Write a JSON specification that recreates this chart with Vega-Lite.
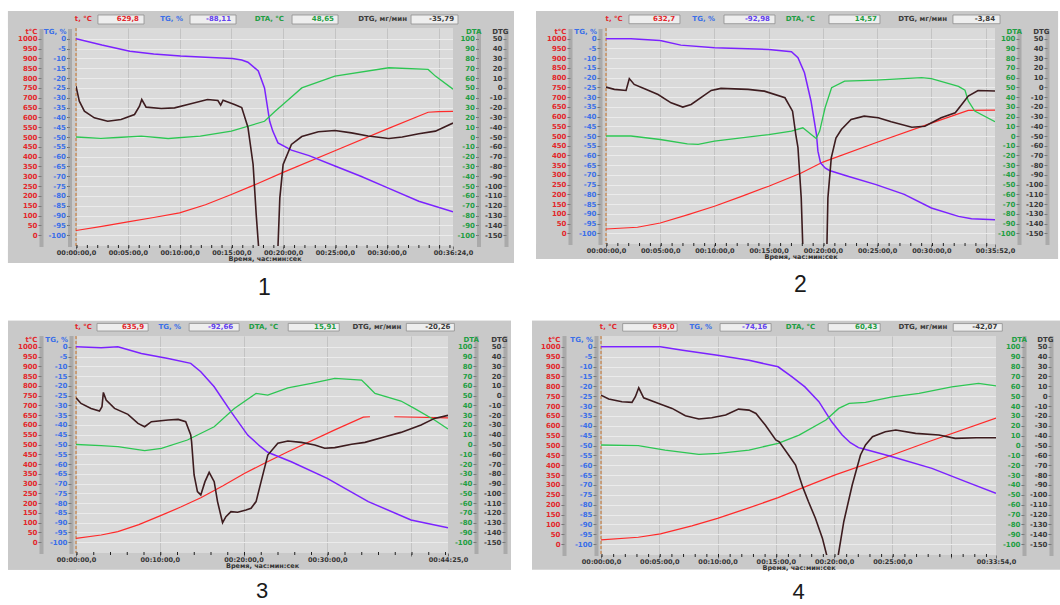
{
"$schema": "https://vega.github.io/schema/vega-lite/v6.json",
"background": "white",
"padding": {"left": 7, "top": 10, "right": 0, "bottom": 0},
"datasets": {
"readout": [
{"p":1,"k":"t","v":"629,8"},{"p":1,"k":"tg","v":"-88,11"},{"p":1,"k":"dta","v":"48,65"},{"p":1,"k":"dtg","v":"-35,79"},
{"p":2,"k":"t","v":"632,7"},{"p":2,"k":"tg","v":"-92,98"},{"p":2,"k":"dta","v":"14,57"},{"p":2,"k":"dtg","v":"-3,84"},
{"p":3,"k":"t","v":"635,9"},{"p":3,"k":"tg","v":"-92,66"},{"p":3,"k":"dta","v":"15,91"},{"p":3,"k":"dtg","v":"-20,26"},
{"p":4,"k":"t","v":"639,0"},{"p":4,"k":"tg","v":"-74,16"},{"p":4,"k":"dta","v":"60,43"},{"p":4,"k":"dtg","v":"-42,07"}
],
"p1": [
{"s":"t","m":0,"v":24},{"s":"t","m":2.5,"v":45},{"s":"t","m":5,"v":68},{"s":"t","m":7.5,"v":90},{"s":"t","m":10,"v":114},{"s":"t","m":12.5,"v":155},{"s":"t","m":15,"v":207},{"s":"t","m":17.5,"v":262},{"s":"t","m":20,"v":320},{"s":"t","m":25,"v":430},{"s":"t","m":30,"v":540},{"s":"t","m":34,"v":626},{"s":"t","m":35,"v":629},{"s":"t","m":36.4,"v":630},
{"s":"tg","m":0,"v":0},{"s":"tg","m":2.5,"v":-3.2},{"s":"tg","m":5.2,"v":-6.3},{"s":"tg","m":7.5,"v":-7.7},{"s":"tg","m":10.1,"v":-8.8},{"s":"tg","m":12.5,"v":-9.4},{"s":"tg","m":15.1,"v":-10},{"s":"tg","m":16,"v":-10.8},{"s":"tg","m":16.6,"v":-11.9},{"s":"tg","m":17.6,"v":-16.4},{"s":"tg","m":18.2,"v":-25},{"s":"tg","m":18.7,"v":-42},{"s":"tg","m":19,"v":-47},{"s":"tg","m":19.5,"v":-53},{"s":"tg","m":20.8,"v":-56.7},{"s":"tg","m":22.5,"v":-59.5},{"s":"tg","m":25,"v":-64.8},{"s":"tg","m":27.5,"v":-70},{"s":"tg","m":30.1,"v":-75.9},{"s":"tg","m":33.1,"v":-82.7},{"s":"tg","m":36.4,"v":-88.1},
{"s":"dta","m":0,"v":0},{"s":"dta","m":2.4,"v":-1.5},{"s":"dta","m":4,"v":-0.5},{"s":"dta","m":6.3,"v":0.9},{"s":"dta","m":8.9,"v":-1.5},{"s":"dta","m":12,"v":0.8},{"s":"dta","m":15,"v":6},{"s":"dta","m":18.2,"v":16},{"s":"dta","m":19.2,"v":26},{"s":"dta","m":20.5,"v":38},{"s":"dta","m":21.8,"v":50},{"s":"dta","m":25,"v":62},{"s":"dta","m":30.2,"v":70.5},{"s":"dta","m":34,"v":68.8},{"s":"dta","m":34.7,"v":62},{"s":"dta","m":36.4,"v":48.7},
{"s":"dtg","m":0,"v":1.8},{"s":"dtg","m":0.32,"v":-13.5},{"s":"dtg","m":0.81,"v":-23.7},{"s":"dtg","m":1.77,"v":-30.5},{"s":"dtg","m":3.06,"v":-33.9},{"s":"dtg","m":4.35,"v":-32.2},{"s":"dtg","m":5.65,"v":-27.1},{"s":"dtg","m":6.13,"v":-18.6},{"s":"dtg","m":6.35,"v":-11.8},{"s":"dtg","m":6.77,"v":-19.6},{"s":"dtg","m":8.23,"v":-21},{"s":"dtg","m":9.52,"v":-20.3},{"s":"dtg","m":10.8,"v":-16.9},{"s":"dtg","m":12.7,"v":-11.8},{"s":"dtg","m":13.7,"v":-12.8},{"s":"dtg","m":13.97,"v":-17.5},{"s":"dtg","m":14.2,"v":-12.5},{"s":"dtg","m":15.3,"v":-16.9},{"s":"dtg","m":16,"v":-20},{"s":"dtg","m":16.6,"v":-40},{"s":"dtg","m":17.1,"v":-78},{"s":"dtg","m":17.4,"v":-129},{"s":"dtg","m":17.65,"v":-165},{"s":"dtg","m":17.75,"v":-200},{"s":"dtg","m":19.45,"v":-200},{"s":"dtg","m":19.5,"v":-162},{"s":"dtg","m":19.68,"v":-112},{"s":"dtg","m":20,"v":-78},{"s":"dtg","m":20.8,"v":-57.6},{"s":"dtg","m":21.8,"v":-49.5},{"s":"dtg","m":23.4,"v":-44.7},{"s":"dtg","m":25,"v":-43.4},{"s":"dtg","m":26.6,"v":-45.8},{"s":"dtg","m":28.2,"v":-49},{"s":"dtg","m":30.2,"v":-51.5},{"s":"dtg","m":31.5,"v":-50},{"s":"dtg","m":33.1,"v":-46.7},{"s":"dtg","m":34.7,"v":-44},{"s":"dtg","m":36.4,"v":-35.8}
],
"p2": [
{"s":"t","m":0,"v":22},{"s":"t","m":2.9,"v":31},{"s":"t","m":5,"v":53},{"s":"t","m":7.5,"v":95},{"s":"t","m":10,"v":139},{"s":"t","m":12.5,"v":190},{"s":"t","m":15,"v":242},{"s":"t","m":18,"v":310},{"s":"t","m":20,"v":366},{"s":"t","m":25,"v":468},{"s":"t","m":30,"v":566},{"s":"t","m":33.4,"v":632},{"s":"t","m":35.8667,"v":633},
{"s":"tg","m":0,"v":0},{"s":"tg","m":2.3,"v":0},{"s":"tg","m":5,"v":-0.9},{"s":"tg","m":6.9,"v":-3.3},{"s":"tg","m":10,"v":-4.6},{"s":"tg","m":15,"v":-5.5},{"s":"tg","m":17.1,"v":-6.7},{"s":"tg","m":17.7,"v":-9.8},{"s":"tg","m":18.3,"v":-17.5},{"s":"tg","m":18.9,"v":-32},{"s":"tg","m":19.4,"v":-49},{"s":"tg","m":19.54,"v":-57.8},{"s":"tg","m":19.78,"v":-63.8},{"s":"tg","m":20.2,"v":-66.4},{"s":"tg","m":20.6,"v":-67.7},{"s":"tg","m":22.3,"v":-70.7},{"s":"tg","m":24.9,"v":-75},{"s":"tg","m":27.5,"v":-80},{"s":"tg","m":30,"v":-87},{"s":"tg","m":32.5,"v":-91.3},{"s":"tg","m":33.7,"v":-92.5},{"s":"tg","m":35.8667,"v":-93},
{"s":"dta","m":0,"v":0},{"s":"dta","m":2.3,"v":0},{"s":"dta","m":5,"v":-3.6},{"s":"dta","m":7.5,"v":-8.1},{"s":"dta","m":8.5,"v":-8.7},{"s":"dta","m":10,"v":-5.3},{"s":"dta","m":15,"v":1.5},{"s":"dta","m":17.1,"v":5},{"s":"dta","m":18.15,"v":8.4},{"s":"dta","m":18.92,"v":1.5},{"s":"dta","m":19.38,"v":-2.6},{"s":"dta","m":19.7,"v":5},{"s":"dta","m":20.2,"v":29},{"s":"dta","m":20.8,"v":49.6},{"s":"dta","m":22,"v":56.4},{"s":"dta","m":24.9,"v":57.5},{"s":"dta","m":29.1,"v":60},{"s":"dta","m":30,"v":59},{"s":"dta","m":32.5,"v":51},{"s":"dta","m":33.1,"v":47},{"s":"dta","m":33.4,"v":36},{"s":"dta","m":34,"v":25.6},{"s":"dta","m":35.8667,"v":14.6},
{"s":"dtg","m":0,"v":0.3},{"s":"dtg","m":0.77,"v":-2.1},{"s":"dtg","m":1.85,"v":-3.2},{"s":"dtg","m":2.15,"v":9},{"s":"dtg","m":2.6,"v":3},{"s":"dtg","m":3.5,"v":-1.1},{"s":"dtg","m":4.8,"v":-7.3},{"s":"dtg","m":6,"v":-15.9},{"s":"dtg","m":7.08,"v":-20.3},{"s":"dtg","m":7.85,"v":-17.6},{"s":"dtg","m":9.7,"v":-3.2},{"s":"dtg","m":10.6,"v":-1.1},{"s":"dtg","m":13.1,"v":-2.1},{"s":"dtg","m":14.6,"v":-3.9},{"s":"dtg","m":16.5,"v":-10.7},{"s":"dtg","m":17.2,"v":-24.5},{"s":"dtg","m":17.5,"v":-48.5},{"s":"dtg","m":17.7,"v":-62},{"s":"dtg","m":18,"v":-113.6},{"s":"dtg","m":18.25,"v":-200},{"s":"dtg","m":20.3,"v":-200},{"s":"dtg","m":20.46,"v":-113.6},{"s":"dtg","m":20.77,"v":-72.5},{"s":"dtg","m":21.2,"v":-52},{"s":"dtg","m":21.7,"v":-43.3},{"s":"dtg","m":22.6,"v":-33},{"s":"dtg","m":23.8,"v":-29.6},{"s":"dtg","m":25.1,"v":-31.3},{"s":"dtg","m":26.3,"v":-35.4},{"s":"dtg","m":28.2,"v":-41},{"s":"dtg","m":29.4,"v":-40},{"s":"dtg","m":30.9,"v":-31.3},{"s":"dtg","m":32.2,"v":-26.2},{"s":"dtg","m":32.8,"v":-17.6},{"s":"dtg","m":33.4,"v":-9},{"s":"dtg","m":34.3,"v":-3.2},{"s":"dtg","m":35.8667,"v":-3.8}
],
"p3": [
{"s":"t","k":1,"m":0,"v":20},{"s":"t","k":1,"m":3,"v":37},{"s":"t","k":1,"m":5,"v":54},{"s":"t","k":1,"m":7.5,"v":90},{"s":"t","k":1,"m":10.1,"v":136},{"s":"t","k":1,"m":12.5,"v":180},{"s":"t","k":1,"m":14.9,"v":228},{"s":"t","k":1,"m":17.5,"v":288},{"s":"t","k":1,"m":20.1,"v":352},{"s":"t","k":1,"m":22.5,"v":404},{"s":"t","k":1,"m":25.3,"v":463},{"s":"t","k":1,"m":30.9,"v":575},{"s":"t","k":1,"m":34.3,"v":640},{"s":"t","k":1,"m":35.1,"v":642},{"s":"t","k":2,"m":38,"v":642},{"s":"t","k":2,"m":44.4167,"v":636},
{"s":"tg","m":0,"v":0},{"s":"tg","m":3,"v":-0.5},{"s":"tg","m":5,"v":0},{"s":"tg","m":7.8,"v":-3.4},{"s":"tg","m":11,"v":-6},{"s":"tg","m":13.7,"v":-8.5},{"s":"tg","m":14.9,"v":-12.8},{"s":"tg","m":16.5,"v":-20.5},{"s":"tg","m":18.5,"v":-33.2},{"s":"tg","m":20.5,"v":-45.2},{"s":"tg","m":22,"v":-51},{"s":"tg","m":22.9,"v":-54},{"s":"tg","m":25.7,"v":-58.8},{"s":"tg","m":30,"v":-67.3},{"s":"tg","m":34.9,"v":-79.2},{"s":"tg","m":40,"v":-88.6},{"s":"tg","m":44.4167,"v":-92.6},
{"s":"dta","m":0,"v":0},{"s":"dta","m":3,"v":-1.2},{"s":"dta","m":5,"v":-2.2},{"s":"dta","m":8.2,"v":-6.3},{"s":"dta","m":10.2,"v":-4},{"s":"dta","m":13.3,"v":4.6},{"s":"dta","m":16.5,"v":18.2},{"s":"dta","m":18.9,"v":36.9},{"s":"dta","m":21.5,"v":52.3},{"s":"dta","m":22.9,"v":50.6},{"s":"dta","m":25.3,"v":58},{"s":"dta","m":28.1,"v":62.5},{"s":"dta","m":30.9,"v":67.6},{"s":"dta","m":34.1,"v":65.9},{"s":"dta","m":34.7,"v":60.8},{"s":"dta","m":35.7,"v":52.3},{"s":"dta","m":38.8,"v":44.5},{"s":"dta","m":40.4,"v":37},{"s":"dta","m":42.8,"v":25},{"s":"dta","m":44.4167,"v":15.9},
{"s":"dtg","m":0,"v":-2.2},{"s":"dtg","m":0.6,"v":-8},{"s":"dtg","m":1.8,"v":-13.1},{"s":"dtg","m":2.8,"v":-15.8},{"s":"dtg","m":3.1,"v":-11.4},{"s":"dtg","m":3.27,"v":3.3},{"s":"dtg","m":3.6,"v":-4.6},{"s":"dtg","m":4.6,"v":-13.1},{"s":"dtg","m":6.2,"v":-19.2},{"s":"dtg","m":7.4,"v":-28.4},{"s":"dtg","m":8.2,"v":-31.8},{"s":"dtg","m":9,"v":-26.7},{"s":"dtg","m":11,"v":-25},{"s":"dtg","m":12.2,"v":-24.3},{"s":"dtg","m":13.1,"v":-26.7},{"s":"dtg","m":13.7,"v":-40.3},{"s":"dtg","m":13.8,"v":-47.1},{"s":"dtg","m":14.1,"v":-81.2},{"s":"dtg","m":14.5,"v":-98.2},{"s":"dtg","m":14.9,"v":-101.6},{"s":"dtg","m":15.4,"v":-88},{"s":"dtg","m":15.9,"v":-78.5},{"s":"dtg","m":16.5,"v":-88},{"s":"dtg","m":16.9,"v":-108.4},{"s":"dtg","m":17.5,"v":-130},{"s":"dtg","m":17.9,"v":-123.8},{"s":"dtg","m":18.5,"v":-118.7},{"s":"dtg","m":19.3,"v":-119.3},{"s":"dtg","m":20.3,"v":-117},{"s":"dtg","m":20.9,"v":-115.3},{"s":"dtg","m":21.5,"v":-108.4},{"s":"dtg","m":22.1,"v":-88},{"s":"dtg","m":22.9,"v":-60.8},{"s":"dtg","m":24.1,"v":-48.8},{"s":"dtg","m":25.3,"v":-46.4},{"s":"dtg","m":26.9,"v":-47.8},{"s":"dtg","m":28.5,"v":-50.5},{"s":"dtg","m":29.7,"v":-53.9},{"s":"dtg","m":30.9,"v":-53.2},{"s":"dtg","m":32.9,"v":-49.8},{"s":"dtg","m":34.5,"v":-47.8},{"s":"dtg","m":36.9,"v":-42},{"s":"dtg","m":38.8,"v":-37.6},{"s":"dtg","m":41.2,"v":-30.1},{"s":"dtg","m":42.8,"v":-23.3},{"s":"dtg","m":44.4167,"v":-20.2}
],
"p4": [
{"s":"t","m":0,"v":22},{"s":"t","m":3.2,"v":35},{"s":"t","m":5.1,"v":52},{"s":"t","m":7.8,"v":93},{"s":"t","m":10,"v":131},{"s":"t","m":12.5,"v":180},{"s":"t","m":15.2,"v":236},{"s":"t","m":17.5,"v":290},{"s":"t","m":20.1,"v":351},{"s":"t","m":25,"v":452},{"s":"t","m":28.1,"v":519},{"s":"t","m":33.9,"v":639},
{"s":"tg","m":0,"v":0},{"s":"tg","m":5.1,"v":0},{"s":"tg","m":7,"v":-1.7},{"s":"tg","m":10,"v":-4.2},{"s":"tg","m":12.7,"v":-6.8},{"s":"tg","m":15.2,"v":-10.1},{"s":"tg","m":16.4,"v":-15.2},{"s":"tg","m":17.5,"v":-20.3},{"s":"tg","m":18.7,"v":-27.8},{"s":"tg","m":19.8,"v":-38},{"s":"tg","m":20.7,"v":-44.7},{"s":"tg","m":21.4,"v":-48.6},{"s":"tg","m":22.1,"v":-51.1},{"s":"tg","m":22.4,"v":-51.5},{"s":"tg","m":25,"v":-55.7},{"s":"tg","m":28.4,"v":-61.6},{"s":"tg","m":31.3,"v":-68.3},{"s":"tg","m":33.9,"v":-74.2},
{"s":"dta","m":0,"v":0.5},{"s":"dta","m":3.2,"v":-0.2},{"s":"dta","m":5.5,"v":-4.6},{"s":"dta","m":8.4,"v":-9},{"s":"dta","m":10.1,"v":-8},{"s":"dta","m":12.7,"v":-4.6},{"s":"dta","m":15.2,"v":2.2},{"s":"dta","m":17,"v":10.6},{"s":"dta","m":19.3,"v":25.8},{"s":"dta","m":20.4,"v":37.6},{"s":"dta","m":21.3,"v":42.6},{"s":"dta","m":22.7,"v":43.7},{"s":"dta","m":25,"v":49.4},{"s":"dta","m":27.3,"v":52.8},{"s":"dta","m":30.1,"v":59.5},{"s":"dta","m":32.4,"v":62.9},{"s":"dta","m":33.9,"v":60.4},
{"s":"dtg","m":0,"v":1.1},{"s":"dtg","m":0.66,"v":-2.9},{"s":"dtg","m":1.8,"v":-5.6},{"s":"dtg","m":2.66,"v":-6.3},{"s":"dtg","m":2.95,"v":-0.6},{"s":"dtg","m":3.24,"v":8.5},{"s":"dtg","m":3.66,"v":-1.6},{"s":"dtg","m":4.95,"v":-7.3},{"s":"dtg","m":6.1,"v":-12.4},{"s":"dtg","m":7.24,"v":-19.8},{"s":"dtg","m":8.4,"v":-23.2},{"s":"dtg","m":9.5,"v":-21.8},{"s":"dtg","m":10.7,"v":-19.1},{"s":"dtg","m":11.8,"v":-13.1},{"s":"dtg","m":12.7,"v":-14.1},{"s":"dtg","m":13.3,"v":-17.5},{"s":"dtg","m":14.1,"v":-29.3},{"s":"dtg","m":15,"v":-44.4},{"s":"dtg","m":15.3,"v":-46.2},{"s":"dtg","m":16.1,"v":-59.6},{"s":"dtg","m":16.7,"v":-69.8},{"s":"dtg","m":17.3,"v":-91.7},{"s":"dtg","m":17.8,"v":-106.8},{"s":"dtg","m":18.4,"v":-123.7},{"s":"dtg","m":19,"v":-143.9},{"s":"dtg","m":19.4,"v":-162.5},{"s":"dtg","m":19.6,"v":-200},{"s":"dtg","m":20.2,"v":-200},{"s":"dtg","m":20.35,"v":-162},{"s":"dtg","m":20.84,"v":-127},{"s":"dtg","m":21.56,"v":-90},{"s":"dtg","m":22.27,"v":-59.6},{"s":"dtg","m":22.7,"v":-49.5},{"s":"dtg","m":23.3,"v":-41.1},{"s":"dtg","m":24.4,"v":-36},{"s":"dtg","m":25.3,"v":-34.3},{"s":"dtg","m":27,"v":-37.7},{"s":"dtg","m":29,"v":-39.4},{"s":"dtg","m":30.4,"v":-42.8},{"s":"dtg","m":32.2,"v":-42.1},{"s":"dtg","m":33.9,"v":-42.1}
]
},
"vconcat": [
{"hconcat": [
{
"width": 377, "height": 218,
"title": {"text": "1"},
"resolve": {"scale": {"y": "independent"}, "axis": {"x": "independent", "y": "independent"}},
"layer": [
{"resolve": {"axis": {"x": "independent", "y": "independent"}},
"layer": [
{"data": {"values": [{}]}, "mark": {"type": "rect", "fill": "#c9c9c9"}, "encoding": {"x": {"datum": -6.57, "type": "quantitative", "scale": {"domain": [0, 36.4], "nice": false, "zero": false}, "axis": null}, "x2": {"datum": 0}, "y": {"datum": -141.6, "type": "quantitative", "scale": {"domain": [-55, 1055], "nice": false, "zero": false}, "axis": {"orient": "left", "values": [0,50,100,150,200,250,300,350,400,450,500,550,600,650,700,750,800,850,900,950,1000], "grid": true, "gridColor": "#ebebeb", "labels": false, "ticks": false, "domain": false, "title": null, "zindex": 0}}, "y2": {"datum": 1141.6}}},
{"data": {"values": [{}]}, "mark": {"type": "rect", "fill": "#c9c9c9"}, "encoding": {"x": {"datum": 36.4, "type": "quantitative", "scale": {"domain": [0, 36.4], "nice": false, "zero": false}, "axis": null}, "x2": {"datum": 42.29}, "y": {"datum": -141.6, "type": "quantitative", "scale": {"domain": [-55, 1055], "nice": false, "zero": false}, "axis": null}, "y2": {"datum": 1141.6}}},
{"data": {"values": [{}]}, "mark": {"type": "rect", "fill": "#c9c9c9"}, "encoding": {"x": {"datum": -6.57, "type": "quantitative", "scale": {"domain": [0, 36.4], "nice": false, "zero": false}, "axis": {"orient": "bottom", "values": [0,5,10,15,20,25,30,35,36.4], "grid": true, "gridColor": "#c3c3c3", "labels": false, "ticks": false, "domain": false, "title": null, "zindex": 0}}, "x2": {"datum": 42.29}, "y": {"datum": 1055, "type": "quantitative", "scale": {"domain": [-55, 1055], "nice": false, "zero": false}, "axis": null}, "y2": {"datum": 1141.6}}},
{"data": {"values": [{}]}, "mark": {"type": "rect", "fill": "#c9c9c9"}, "encoding": {"x": {"datum": -6.57, "type": "quantitative", "scale": {"domain": [0, 36.4], "nice": false, "zero": false}, "axis": null}, "x2": {"datum": 42.29}, "y": {"datum": -141.6, "type": "quantitative", "scale": {"domain": [-55, 1055], "nice": false, "zero": false}, "axis": null}, "y2": {"datum": -55}}},
{"data": {"values": [{}]}, "mark": {"type": "rule", "color": "#c8742c", "strokeDash": [3, 2]}, "encoding": {"x": {"datum": 0, "type": "quantitative", "scale": {"domain": [0, 36.4], "nice": false, "zero": false}, "axis": null}}},
{"data": {"values": [{}]}, "mark": {"type": "rect", "fill": "#eeeeee", "stroke": "#8e8e8e", "strokeWidth": 0.8}, "encoding": {"x": {"datum": 2.12, "type": "quantitative", "scale": {"domain": [0, 36.4], "nice": false, "zero": false}, "axis": null}, "x2": {"datum": 6.57}, "y": {"datum": 1075.4, "type": "quantitative", "scale": {"domain": [-55, 1055], "nice": false, "zero": false}, "axis": null}, "y2": {"datum": 1121.2}}},
{"data": {"values": [{}]}, "mark": {"type": "rect", "fill": "#eeeeee", "stroke": "#8e8e8e", "strokeWidth": 0.8}, "encoding": {"x": {"datum": 11.01, "type": "quantitative", "scale": {"domain": [0, 36.4], "nice": false, "zero": false}, "axis": null}, "x2": {"datum": 15.45}, "y": {"datum": 1075.4, "type": "quantitative", "scale": {"domain": [-55, 1055], "nice": false, "zero": false}, "axis": null}, "y2": {"datum": 1121.2}}},
{"data": {"values": [{}]}, "mark": {"type": "rect", "fill": "#eeeeee", "stroke": "#8e8e8e", "strokeWidth": 0.8}, "encoding": {"x": {"datum": 20.86, "type": "quantitative", "scale": {"domain": [0, 36.4], "nice": false, "zero": false}, "axis": null}, "x2": {"datum": 25.3}, "y": {"datum": 1075.4, "type": "quantitative", "scale": {"domain": [-55, 1055], "nice": false, "zero": false}, "axis": null}, "y2": {"datum": 1121.2}}},
{"data": {"values": [{}]}, "mark": {"type": "rect", "fill": "#eeeeee", "stroke": "#8e8e8e", "strokeWidth": 0.8}, "encoding": {"x": {"datum": 32.35, "type": "quantitative", "scale": {"domain": [0, 36.4], "nice": false, "zero": false}, "axis": null}, "x2": {"datum": 36.88}, "y": {"datum": 1075.4, "type": "quantitative", "scale": {"domain": [-55, 1055], "nice": false, "zero": false}, "axis": null}, "y2": {"datum": 1121.2}}},
{"data": {"values": [{}]}, "mark": {"type": "text", "color": "#e3262b"}, "encoding": {"x": {"datum": 1.54, "type": "quantitative", "scale": {"domain": [0, 36.4], "nice": false, "zero": false}, "axis": null}, "y": {"datum": 1100.8, "type": "quantitative", "scale": {"domain": [-55, 1055], "nice": false, "zero": false}, "axis": null}, "text": {"value": "t, °C"}}},
{"data": {"values": [{}]}, "mark": {"type": "text", "color": "#3a6fe8"}, "encoding": {"x": {"datum": 10.33, "type": "quantitative", "scale": {"domain": [0, 36.4], "nice": false, "zero": false}, "axis": null}, "y": {"datum": 1100.8, "type": "quantitative", "scale": {"domain": [-55, 1055], "nice": false, "zero": false}, "axis": null}, "text": {"value": "TG, %"}}},
{"data": {"values": [{}]}, "mark": {"type": "text", "color": "#1e9e43"}, "encoding": {"x": {"datum": 20.08, "type": "quantitative", "scale": {"domain": [0, 36.4], "nice": false, "zero": false}, "axis": null}, "y": {"datum": 1100.8, "type": "quantitative", "scale": {"domain": [-55, 1055], "nice": false, "zero": false}, "axis": null}, "text": {"value": "DTA, °C"}}},
{"data": {"values": [{}]}, "mark": {"type": "text", "color": "#3a3a3a"}, "encoding": {"x": {"datum": 31.96, "type": "quantitative", "scale": {"domain": [0, 36.4], "nice": false, "zero": false}, "axis": null}, "y": {"datum": 1100.8, "type": "quantitative", "scale": {"domain": [-55, 1055], "nice": false, "zero": false}, "axis": null}, "text": {"value": "DTG, мг/мин"}}},
{"data": {"name": "readout"}, "transform": [{"filter": "datum.p == 1 && datum.k == 't'"}], "mark": {"type": "text", "color": "#e3262b"}, "encoding": {"x": {"datum": 6.08, "type": "quantitative", "scale": {"domain": [0, 36.4], "nice": false, "zero": false}, "axis": null}, "y": {"datum": 1100.8, "type": "quantitative", "scale": {"domain": [-55, 1055], "nice": false, "zero": false}, "axis": null}, "text": {"field": "v"}}},
{"data": {"name": "readout"}, "transform": [{"filter": "datum.p == 1 && datum.k == 'tg'"}], "mark": {"type": "text", "color": "#6240ee"}, "encoding": {"x": {"datum": 14.97, "type": "quantitative", "scale": {"domain": [0, 36.4], "nice": false, "zero": false}, "axis": null}, "y": {"datum": 1100.8, "type": "quantitative", "scale": {"domain": [-55, 1055], "nice": false, "zero": false}, "axis": null}, "text": {"field": "v"}}},
{"data": {"name": "readout"}, "transform": [{"filter": "datum.p == 1 && datum.k == 'dta'"}], "mark": {"type": "text", "color": "#1e9e43"}, "encoding": {"x": {"datum": 24.91, "type": "quantitative", "scale": {"domain": [0, 36.4], "nice": false, "zero": false}, "axis": null}, "y": {"datum": 1100.8, "type": "quantitative", "scale": {"domain": [-55, 1055], "nice": false, "zero": false}, "axis": null}, "text": {"field": "v"}}},
{"data": {"name": "readout"}, "transform": [{"filter": "datum.p == 1 && datum.k == 'dtg'"}], "mark": {"type": "text", "color": "#3a3a3a"}, "encoding": {"x": {"datum": 36.5, "type": "quantitative", "scale": {"domain": [0, 36.4], "nice": false, "zero": false}, "axis": null}, "y": {"datum": 1100.8, "type": "quantitative", "scale": {"domain": [-55, 1055], "nice": false, "zero": false}, "axis": null}, "text": {"field": "v"}}},
{"data": {"name": "p1"}, "transform": [{"filter": "datum.s == 't'"}], "mark": {"type": "line", "color": "#ff2a2a", "strokeWidth": 1.2, "clip": true}, "encoding": {
"x": {"field": "m", "type": "quantitative", "scale": {"domain": [0, 36.4], "nice": false, "zero": false}, "axis": {"orient": "bottom", "zindex": 1, "values": [0,5,10,15,20,25,30,35,36.4], "labelExpr": "datum.value == 35 ? '' : utcFormat(round(datum.value * 60000), '%H:%M:%S') + ',0'", "title": "Время, час:мин:сек", "domainDash": [1, 9.36]}},
"y": {"field": "v", "type": "quantitative", "scale": {"domain": [-55, 1055], "nice": false, "zero": false}, "axis": {"orient": "left", "zindex": 1, "labelExpr": "'' + datum.value", "offset": 35, "values": [0,50,100,150,200,250,300,350,400,450,500,550,600,650,700,750,800,850,900,950,1000], "labelColor": "#e3262b", "title": "t°C", "titleColor": "#e3262b", "titleX": -4}}}}
]},
{"data": {"name": "p1"}, "transform": [{"filter": "datum.s == 'tg'"}], "mark": {"type": "line", "color": "#7b22ff", "strokeWidth": 1.5, "clip": true}, "encoding": {
"x": {"field": "m", "type": "quantitative", "scale": {"domain": [0, 36.4], "nice": false, "zero": false}, "axis": null},
"y": {"field": "v", "type": "quantitative", "scale": {"domain": [-105.5, 5.5], "nice": false, "zero": false}, "axis": {"orient": "left", "zindex": 1, "labelExpr": "'' + datum.value", "offset": 6.5, "values": [-100,-95,-90,-85,-80,-75,-70,-65,-60,-55,-50,-45,-40,-35,-30,-25,-20,-15,-10,-5,0], "labelColor": "#3a6fe8", "title": "TG, %", "titleColor": "#3a6fe8", "titleX": -3.5}}}},
{"data": {"name": "p1"}, "transform": [{"filter": "datum.s == 'dta'"}], "mark": {"type": "line", "color": "#2dc653", "strokeWidth": 1.3, "clip": true}, "encoding": {
"x": {"field": "m", "type": "quantitative", "scale": {"domain": [0, 36.4], "nice": false, "zero": false}, "axis": null},
"y": {"field": "v", "type": "quantitative", "scale": {"domain": [-111, 111], "nice": false, "zero": false}, "axis": {"orient": "left", "zindex": 1, "labelExpr": "'' + datum.value", "offset": -402.5, "values": [-100,-90,-80,-70,-60,-50,-40,-30,-20,-10,0,10,20,30,40,50,60,70,80,90,100], "labelColor": "#1e9e43", "title": "DTA", "titleColor": "#1e9e43", "titleX": 2.5}}}},
{"data": {"name": "p1"}, "transform": [{"filter": "datum.s == 'dtg'"}], "mark": {"type": "line", "color": "#3d1c1f", "strokeWidth": 1.6, "clip": true}, "encoding": {
"x": {"field": "m", "type": "quantitative", "scale": {"domain": [0, 36.4], "nice": false, "zero": false}, "axis": null},
"y": {"field": "v", "type": "quantitative", "scale": {"domain": [-161, 61], "nice": false, "zero": false}, "axis": {"orient": "left", "zindex": 1, "labelExpr": "'' + datum.value", "offset": -430, "values": [-150,-140,-130,-120,-110,-100,-90,-80,-70,-60,-50,-40,-30,-20,-10,0,10,20,30,40,50], "labelColor": "#3a3a3a", "title": "DTG", "titleColor": "#3a3a3a", "titleX": 2}}}}
]
},
{
"width": 389, "height": 216,
"title": {"text": "2"},
"resolve": {"scale": {"y": "independent"}, "axis": {"x": "independent", "y": "independent"}},
"layer": [
{"resolve": {"axis": {"x": "independent", "y": "independent"}},
"layer": [
{"data": {"values": [{}]}, "mark": {"type": "rect", "fill": "#c9c9c9"}, "encoding": {"x": {"datum": -6.45, "type": "quantitative", "scale": {"domain": [0, 35.8667], "nice": false, "zero": false}, "axis": null}, "x2": {"datum": 0}, "y": {"datum": -132.1, "type": "quantitative", "scale": {"domain": [-55, 1055], "nice": false, "zero": false}, "axis": {"orient": "left", "values": [0,50,100,150,200,250,300,350,400,450,500,550,600,650,700,750,800,850,900,950,1000], "grid": true, "gridColor": "#ebebeb", "labels": false, "ticks": false, "domain": false, "title": null, "zindex": 0}}, "y2": {"datum": 1142.4}}},
{"data": {"values": [{}]}, "mark": {"type": "rect", "fill": "#c9c9c9"}, "encoding": {"x": {"datum": 35.8667, "type": "quantitative", "scale": {"domain": [0, 35.8667], "nice": false, "zero": false}, "axis": null}, "x2": {"datum": 41.68}, "y": {"datum": -132.1, "type": "quantitative", "scale": {"domain": [-55, 1055], "nice": false, "zero": false}, "axis": null}, "y2": {"datum": 1142.4}}},
{"data": {"values": [{}]}, "mark": {"type": "rect", "fill": "#c9c9c9"}, "encoding": {"x": {"datum": -6.45, "type": "quantitative", "scale": {"domain": [0, 35.8667], "nice": false, "zero": false}, "axis": {"orient": "bottom", "values": [0,5,10,15,20,25,30,35,35.8667], "grid": true, "gridColor": "#c3c3c3", "labels": false, "ticks": false, "domain": false, "title": null, "zindex": 0}}, "x2": {"datum": 41.68}, "y": {"datum": 1055, "type": "quantitative", "scale": {"domain": [-55, 1055], "nice": false, "zero": false}, "axis": null}, "y2": {"datum": 1142.4}}},
{"data": {"values": [{}]}, "mark": {"type": "rect", "fill": "#c9c9c9"}, "encoding": {"x": {"datum": -6.45, "type": "quantitative", "scale": {"domain": [0, 35.8667], "nice": false, "zero": false}, "axis": null}, "x2": {"datum": 41.68}, "y": {"datum": -132.1, "type": "quantitative", "scale": {"domain": [-55, 1055], "nice": false, "zero": false}, "axis": null}, "y2": {"datum": -55}}},
{"data": {"values": [{}]}, "mark": {"type": "rule", "color": "#c8742c", "strokeDash": [3, 2]}, "encoding": {"x": {"datum": 0, "type": "quantitative", "scale": {"domain": [0, 35.8667], "nice": false, "zero": false}, "axis": null}}},
{"data": {"values": [{}]}, "mark": {"type": "rect", "fill": "#eeeeee", "stroke": "#8e8e8e", "strokeWidth": 0.8}, "encoding": {"x": {"datum": 2.12, "type": "quantitative", "scale": {"domain": [0, 35.8667], "nice": false, "zero": false}, "axis": null}, "x2": {"datum": 6.82}, "y": {"datum": 1077.1, "type": "quantitative", "scale": {"domain": [-55, 1055], "nice": false, "zero": false}, "axis": null}, "y2": {"datum": 1121.8}}},
{"data": {"values": [{}]}, "mark": {"type": "rect", "fill": "#eeeeee", "stroke": "#8e8e8e", "strokeWidth": 0.8}, "encoding": {"x": {"datum": 10.88, "type": "quantitative", "scale": {"domain": [0, 35.8667], "nice": false, "zero": false}, "axis": null}, "x2": {"datum": 15.58}, "y": {"datum": 1077.1, "type": "quantitative", "scale": {"domain": [-55, 1055], "nice": false, "zero": false}, "axis": null}, "y2": {"datum": 1121.8}}},
{"data": {"values": [{}]}, "mark": {"type": "rect", "fill": "#eeeeee", "stroke": "#8e8e8e", "strokeWidth": 0.8}, "encoding": {"x": {"datum": 20.56, "type": "quantitative", "scale": {"domain": [0, 35.8667], "nice": false, "zero": false}, "axis": null}, "x2": {"datum": 25.26}, "y": {"datum": 1077.1, "type": "quantitative", "scale": {"domain": [-55, 1055], "nice": false, "zero": false}, "axis": null}, "y2": {"datum": 1121.8}}},
{"data": {"values": [{}]}, "mark": {"type": "rect", "fill": "#eeeeee", "stroke": "#8e8e8e", "strokeWidth": 0.8}, "encoding": {"x": {"datum": 31.99, "type": "quantitative", "scale": {"domain": [0, 35.8667], "nice": false, "zero": false}, "axis": null}, "x2": {"datum": 36.33}, "y": {"datum": 1077.1, "type": "quantitative", "scale": {"domain": [-55, 1055], "nice": false, "zero": false}, "axis": null}, "y2": {"datum": 1121.8}}},
{"data": {"values": [{}]}, "mark": {"type": "text", "color": "#e3262b"}, "encoding": {"x": {"datum": 1.54, "type": "quantitative", "scale": {"domain": [0, 35.8667], "nice": false, "zero": false}, "axis": null}, "y": {"datum": 1099.7, "type": "quantitative", "scale": {"domain": [-55, 1055], "nice": false, "zero": false}, "axis": null}, "text": {"value": "t, °C"}}},
{"data": {"values": [{}]}, "mark": {"type": "text", "color": "#3a6fe8"}, "encoding": {"x": {"datum": 10.05, "type": "quantitative", "scale": {"domain": [0, 35.8667], "nice": false, "zero": false}, "axis": null}, "y": {"datum": 1099.7, "type": "quantitative", "scale": {"domain": [-55, 1055], "nice": false, "zero": false}, "axis": null}, "text": {"value": "TG, %"}}},
{"data": {"values": [{}]}, "mark": {"type": "text", "color": "#1e9e43"}, "encoding": {"x": {"datum": 19.27, "type": "quantitative", "scale": {"domain": [0, 35.8667], "nice": false, "zero": false}, "axis": null}, "y": {"datum": 1099.7, "type": "quantitative", "scale": {"domain": [-55, 1055], "nice": false, "zero": false}, "axis": null}, "text": {"value": "DTA, °C"}}},
{"data": {"values": [{}]}, "mark": {"type": "text", "color": "#3a3a3a"}, "encoding": {"x": {"datum": 31.44, "type": "quantitative", "scale": {"domain": [0, 35.8667], "nice": false, "zero": false}, "axis": null}, "y": {"datum": 1099.7, "type": "quantitative", "scale": {"domain": [-55, 1055], "nice": false, "zero": false}, "axis": null}, "text": {"value": "DTG, мг/мин"}}},
{"data": {"name": "readout"}, "transform": [{"filter": "datum.p == 2 && datum.k == 't'"}], "mark": {"type": "text", "color": "#e3262b"}, "encoding": {"x": {"datum": 6.38, "type": "quantitative", "scale": {"domain": [0, 35.8667], "nice": false, "zero": false}, "axis": null}, "y": {"datum": 1099.7, "type": "quantitative", "scale": {"domain": [-55, 1055], "nice": false, "zero": false}, "axis": null}, "text": {"field": "v"}}},
{"data": {"name": "readout"}, "transform": [{"filter": "datum.p == 2 && datum.k == 'tg'"}], "mark": {"type": "text", "color": "#6240ee"}, "encoding": {"x": {"datum": 15.12, "type": "quantitative", "scale": {"domain": [0, 35.8667], "nice": false, "zero": false}, "axis": null}, "y": {"datum": 1099.7, "type": "quantitative", "scale": {"domain": [-55, 1055], "nice": false, "zero": false}, "axis": null}, "text": {"field": "v"}}},
{"data": {"name": "readout"}, "transform": [{"filter": "datum.p == 2 && datum.k == 'dta'"}], "mark": {"type": "text", "color": "#1e9e43"}, "encoding": {"x": {"datum": 24.98, "type": "quantitative", "scale": {"domain": [0, 35.8667], "nice": false, "zero": false}, "axis": null}, "y": {"datum": 1099.7, "type": "quantitative", "scale": {"domain": [-55, 1055], "nice": false, "zero": false}, "axis": null}, "text": {"field": "v"}}},
{"data": {"name": "readout"}, "transform": [{"filter": "datum.p == 2 && datum.k == 'dtg'"}], "mark": {"type": "text", "color": "#3a3a3a"}, "encoding": {"x": {"datum": 35.87, "type": "quantitative", "scale": {"domain": [0, 35.8667], "nice": false, "zero": false}, "axis": null}, "y": {"datum": 1099.7, "type": "quantitative", "scale": {"domain": [-55, 1055], "nice": false, "zero": false}, "axis": null}, "text": {"field": "v"}}},
{"data": {"name": "p2"}, "transform": [{"filter": "datum.s == 't'"}], "mark": {"type": "line", "color": "#ff2a2a", "strokeWidth": 1.2, "clip": true}, "encoding": {
"x": {"field": "m", "type": "quantitative", "scale": {"domain": [0, 35.8667], "nice": false, "zero": false}, "axis": {"orient": "bottom", "zindex": 1, "values": [0,5,10,15,20,25,30,35,35.8667], "labelExpr": "datum.value == 35 ? '' : utcFormat(round(datum.value * 60000), '%H:%M:%S') + ',0'", "title": "Время, час:мин:сек", "domainDash": [1, 9.85]}},
"y": {"field": "v", "type": "quantitative", "scale": {"domain": [-55, 1055], "nice": false, "zero": false}, "axis": {"orient": "left", "zindex": 1, "labelExpr": "'' + datum.value", "offset": 36, "values": [0,50,100,150,200,250,300,350,400,450,500,550,600,650,700,750,800,850,900,950,1000], "labelColor": "#e3262b", "title": "t°C", "titleColor": "#e3262b", "titleX": -4}}}}
]},
{"data": {"name": "p2"}, "transform": [{"filter": "datum.s == 'tg'"}], "mark": {"type": "line", "color": "#7b22ff", "strokeWidth": 1.5, "clip": true}, "encoding": {
"x": {"field": "m", "type": "quantitative", "scale": {"domain": [0, 35.8667], "nice": false, "zero": false}, "axis": null},
"y": {"field": "v", "type": "quantitative", "scale": {"domain": [-105.5, 5.5], "nice": false, "zero": false}, "axis": {"orient": "left", "zindex": 1, "labelExpr": "'' + datum.value", "offset": 6, "values": [-100,-95,-90,-85,-80,-75,-70,-65,-60,-55,-50,-45,-40,-35,-30,-25,-20,-15,-10,-5,0], "labelColor": "#3a6fe8", "title": "TG, %", "titleColor": "#3a6fe8", "titleX": -3.5}}}},
{"data": {"name": "p2"}, "transform": [{"filter": "datum.s == 'dta'"}], "mark": {"type": "line", "color": "#2dc653", "strokeWidth": 1.3, "clip": true}, "encoding": {
"x": {"field": "m", "type": "quantitative", "scale": {"domain": [0, 35.8667], "nice": false, "zero": false}, "axis": null},
"y": {"field": "v", "type": "quantitative", "scale": {"domain": [-111, 111], "nice": false, "zero": false}, "axis": {"orient": "left", "zindex": 1, "labelExpr": "'' + datum.value", "offset": -413, "values": [-100,-90,-80,-70,-60,-50,-40,-30,-20,-10,0,10,20,30,40,50,60,70,80,90,100], "labelColor": "#1e9e43", "title": "DTA", "titleColor": "#1e9e43", "titleX": 2.5}}}},
{"data": {"name": "p2"}, "transform": [{"filter": "datum.s == 'dtg'"}], "mark": {"type": "line", "color": "#3d1c1f", "strokeWidth": 1.6, "clip": true}, "encoding": {
"x": {"field": "m", "type": "quantitative", "scale": {"domain": [0, 35.8667], "nice": false, "zero": false}, "axis": null},
"y": {"field": "v", "type": "quantitative", "scale": {"domain": [-161, 61], "nice": false, "zero": false}, "axis": {"orient": "left", "zindex": 1, "labelExpr": "'' + datum.value", "offset": -441, "values": [-150,-140,-130,-120,-110,-100,-90,-80,-70,-60,-50,-40,-30,-20,-10,0,10,20,30,40,50], "labelColor": "#3a3a3a", "title": "DTG", "titleColor": "#3a3a3a", "titleX": 2}}}}
]
}
], "spacing": 21},
{"hconcat": [
{
"width": 372, "height": 217,
"title": {"text": "3", "offset": 11, "fontSize": 22},
"resolve": {"scale": {"y": "independent"}, "axis": {"x": "independent", "y": "independent"}},
"layer": [
{"resolve": {"axis": {"x": "independent", "y": "independent"}},
"layer": [
{"data": {"values": [{}]}, "mark": {"type": "rect", "fill": "#c9c9c9"}, "encoding": {"x": {"datum": -8.12, "type": "quantitative", "scale": {"domain": [0, 44.4167], "nice": false, "zero": false}, "axis": null}, "x2": {"datum": 0}, "y": {"datum": -140.4, "type": "quantitative", "scale": {"domain": [-55, 1055], "nice": false, "zero": false}, "axis": {"orient": "left", "values": [0,50,100,150,200,250,300,350,400,450,500,550,600,650,700,750,800,850,900,950,1000], "grid": true, "gridColor": "#ebebeb", "labels": false, "ticks": false, "domain": false, "title": null, "zindex": 0}}, "y2": {"datum": 1133.3}}},
{"data": {"values": [{}]}, "mark": {"type": "rect", "fill": "#c9c9c9"}, "encoding": {"x": {"datum": 44.4167, "type": "quantitative", "scale": {"domain": [0, 44.4167], "nice": false, "zero": false}, "axis": null}, "x2": {"datum": 51.94}, "y": {"datum": -140.4, "type": "quantitative", "scale": {"domain": [-55, 1055], "nice": false, "zero": false}, "axis": null}, "y2": {"datum": 1133.3}}},
{"data": {"values": [{}]}, "mark": {"type": "rect", "fill": "#c9c9c9"}, "encoding": {"x": {"datum": -8.12, "type": "quantitative", "scale": {"domain": [0, 44.4167], "nice": false, "zero": false}, "axis": {"orient": "bottom", "values": [0,10,20,30,40,44.4167], "grid": true, "gridColor": "#c3c3c3", "labels": false, "ticks": false, "domain": false, "title": null, "zindex": 0}}, "x2": {"datum": 51.94}, "y": {"datum": 1055, "type": "quantitative", "scale": {"domain": [-55, 1055], "nice": false, "zero": false}, "axis": null}, "y2": {"datum": 1133.3}}},
{"data": {"values": [{}]}, "mark": {"type": "rect", "fill": "#c9c9c9"}, "encoding": {"x": {"datum": -8.12, "type": "quantitative", "scale": {"domain": [0, 44.4167], "nice": false, "zero": false}, "axis": null}, "x2": {"datum": 51.94}, "y": {"datum": -140.4, "type": "quantitative", "scale": {"domain": [-55, 1055], "nice": false, "zero": false}, "axis": null}, "y2": {"datum": -55}}},
{"data": {"values": [{}]}, "mark": {"type": "rule", "color": "#c8742c", "strokeDash": [3, 2]}, "encoding": {"x": {"datum": 0, "type": "quantitative", "scale": {"domain": [0, 44.4167], "nice": false, "zero": false}, "axis": null}}},
{"data": {"values": [{}]}, "mark": {"type": "rect", "fill": "#eeeeee", "stroke": "#8e8e8e", "strokeWidth": 0.8}, "encoding": {"x": {"datum": 2.51, "type": "quantitative", "scale": {"domain": [0, 44.4167], "nice": false, "zero": false}, "axis": null}, "x2": {"datum": 8.61}, "y": {"datum": 1080.6, "type": "quantitative", "scale": {"domain": [-55, 1055], "nice": false, "zero": false}, "axis": null}, "y2": {"datum": 1119.4}}},
{"data": {"values": [{}]}, "mark": {"type": "rect", "fill": "#eeeeee", "stroke": "#8e8e8e", "strokeWidth": 0.8}, "encoding": {"x": {"datum": 13.51, "type": "quantitative", "scale": {"domain": [0, 44.4167], "nice": false, "zero": false}, "axis": null}, "x2": {"datum": 19.48}, "y": {"datum": 1080.6, "type": "quantitative", "scale": {"domain": [-55, 1055], "nice": false, "zero": false}, "axis": null}, "y2": {"datum": 1119.4}}},
{"data": {"values": [{}]}, "mark": {"type": "rect", "fill": "#eeeeee", "stroke": "#8e8e8e", "strokeWidth": 0.8}, "encoding": {"x": {"datum": 25.34, "type": "quantitative", "scale": {"domain": [0, 44.4167], "nice": false, "zero": false}, "axis": null}, "x2": {"datum": 31.43}, "y": {"datum": 1080.6, "type": "quantitative", "scale": {"domain": [-55, 1055], "nice": false, "zero": false}, "axis": null}, "y2": {"datum": 1119.4}}},
{"data": {"values": [{}]}, "mark": {"type": "rect", "fill": "#eeeeee", "stroke": "#8e8e8e", "strokeWidth": 0.8}, "encoding": {"x": {"datum": 39.44, "type": "quantitative", "scale": {"domain": [0, 44.4167], "nice": false, "zero": false}, "axis": null}, "x2": {"datum": 45.18}, "y": {"datum": 1080.6, "type": "quantitative", "scale": {"domain": [-55, 1055], "nice": false, "zero": false}, "axis": null}, "y2": {"datum": 1119.4}}},
{"data": {"values": [{}]}, "mark": {"type": "text", "color": "#e3262b"}, "encoding": {"x": {"datum": 1.91, "type": "quantitative", "scale": {"domain": [0, 44.4167], "nice": false, "zero": false}, "axis": null}, "y": {"datum": 1102.6, "type": "quantitative", "scale": {"domain": [-55, 1055], "nice": false, "zero": false}, "axis": null}, "text": {"value": "t, °C"}}},
{"data": {"values": [{}]}, "mark": {"type": "text", "color": "#3a6fe8"}, "encoding": {"x": {"datum": 12.55, "type": "quantitative", "scale": {"domain": [0, 44.4167], "nice": false, "zero": false}, "axis": null}, "y": {"datum": 1102.6, "type": "quantitative", "scale": {"domain": [-55, 1055], "nice": false, "zero": false}, "axis": null}, "text": {"value": "TG, %"}}},
{"data": {"values": [{}]}, "mark": {"type": "text", "color": "#1e9e43"}, "encoding": {"x": {"datum": 24.14, "type": "quantitative", "scale": {"domain": [0, 44.4167], "nice": false, "zero": false}, "axis": null}, "y": {"datum": 1102.6, "type": "quantitative", "scale": {"domain": [-55, 1055], "nice": false, "zero": false}, "axis": null}, "text": {"value": "DTA, °C"}}},
{"data": {"values": [{}]}, "mark": {"type": "text", "color": "#3a3a3a"}, "encoding": {"x": {"datum": 38.84, "type": "quantitative", "scale": {"domain": [0, 44.4167], "nice": false, "zero": false}, "axis": null}, "y": {"datum": 1102.6, "type": "quantitative", "scale": {"domain": [-55, 1055], "nice": false, "zero": false}, "axis": null}, "text": {"value": "DTG, мг/мин"}}},
{"data": {"name": "readout"}, "transform": [{"filter": "datum.p == 3 && datum.k == 't'"}], "mark": {"type": "text", "color": "#e3262b"}, "encoding": {"x": {"datum": 8.13, "type": "quantitative", "scale": {"domain": [0, 44.4167], "nice": false, "zero": false}, "axis": null}, "y": {"datum": 1102.6, "type": "quantitative", "scale": {"domain": [-55, 1055], "nice": false, "zero": false}, "axis": null}, "text": {"field": "v"}}},
{"data": {"name": "readout"}, "transform": [{"filter": "datum.p == 3 && datum.k == 'tg'"}], "mark": {"type": "text", "color": "#6240ee"}, "encoding": {"x": {"datum": 18.76, "type": "quantitative", "scale": {"domain": [0, 44.4167], "nice": false, "zero": false}, "axis": null}, "y": {"datum": 1102.6, "type": "quantitative", "scale": {"domain": [-55, 1055], "nice": false, "zero": false}, "axis": null}, "text": {"field": "v"}}},
{"data": {"name": "readout"}, "transform": [{"filter": "datum.p == 3 && datum.k == 'dta'"}], "mark": {"type": "text", "color": "#1e9e43"}, "encoding": {"x": {"datum": 31.07, "type": "quantitative", "scale": {"domain": [0, 44.4167], "nice": false, "zero": false}, "axis": null}, "y": {"datum": 1102.6, "type": "quantitative", "scale": {"domain": [-55, 1055], "nice": false, "zero": false}, "axis": null}, "text": {"field": "v"}}},
{"data": {"name": "readout"}, "transform": [{"filter": "datum.p == 3 && datum.k == 'dtg'"}], "mark": {"type": "text", "color": "#3a3a3a"}, "encoding": {"x": {"datum": 44.7, "type": "quantitative", "scale": {"domain": [0, 44.4167], "nice": false, "zero": false}, "axis": null}, "y": {"datum": 1102.6, "type": "quantitative", "scale": {"domain": [-55, 1055], "nice": false, "zero": false}, "axis": null}, "text": {"field": "v"}}},
{"data": {"name": "p3"}, "transform": [{"filter": "datum.s == 't'"}], "mark": {"type": "line", "color": "#ff2a2a", "strokeWidth": 1.2, "clip": true}, "encoding": {
"x": {"field": "m", "type": "quantitative", "scale": {"domain": [0, 44.4167], "nice": false, "zero": false}, "axis": {"orient": "bottom", "zindex": 1, "values": [0,10,20,30,40,44.4167], "labelExpr": "datum.value == 40 ? '' : utcFormat(round(datum.value * 60000), '%H:%M:%S') + ',0'", "title": "Время, час:мин:сек", "domainDash": [1, 15.75]}},
"y": {"field": "v", "type": "quantitative", "scale": {"domain": [-55, 1055], "nice": false, "zero": false}, "axis": {"orient": "left", "zindex": 1, "labelExpr": "'' + datum.value", "offset": 35, "values": [0,50,100,150,200,250,300,350,400,450,500,550,600,650,700,750,800,850,900,950,1000], "labelColor": "#e3262b", "title": "t°C", "titleColor": "#e3262b", "titleX": -4}},
"detail": {"field": "k"}}}
]},
{"data": {"name": "p3"}, "transform": [{"filter": "datum.s == 'tg'"}], "mark": {"type": "line", "color": "#7b22ff", "strokeWidth": 1.5, "clip": true}, "encoding": {
"x": {"field": "m", "type": "quantitative", "scale": {"domain": [0, 44.4167], "nice": false, "zero": false}, "axis": null},
"y": {"field": "v", "type": "quantitative", "scale": {"domain": [-105.5, 5.5], "nice": false, "zero": false}, "axis": {"orient": "left", "zindex": 1, "labelExpr": "'' + datum.value", "offset": 5, "values": [-100,-95,-90,-85,-80,-75,-70,-65,-60,-55,-50,-45,-40,-35,-30,-25,-20,-15,-10,-5,0], "labelColor": "#3a6fe8", "title": "TG, %", "titleColor": "#3a6fe8", "titleX": -3.5}}}},
{"data": {"name": "p3"}, "transform": [{"filter": "datum.s == 'dta'"}], "mark": {"type": "line", "color": "#2dc653", "strokeWidth": 1.3, "clip": true}, "encoding": {
"x": {"field": "m", "type": "quantitative", "scale": {"domain": [0, 44.4167], "nice": false, "zero": false}, "axis": null},
"y": {"field": "v", "type": "quantitative", "scale": {"domain": [-111, 111], "nice": false, "zero": false}, "axis": {"orient": "left", "zindex": 1, "labelExpr": "'' + datum.value", "offset": -400, "values": [-100,-90,-80,-70,-60,-50,-40,-30,-20,-10,0,10,20,30,40,50,60,70,80,90,100], "labelColor": "#1e9e43", "title": "DTA", "titleColor": "#1e9e43", "titleX": 2.5}}}},
{"data": {"name": "p3"}, "transform": [{"filter": "datum.s == 'dtg'"}], "mark": {"type": "line", "color": "#3d1c1f", "strokeWidth": 1.6, "clip": true}, "encoding": {
"x": {"field": "m", "type": "quantitative", "scale": {"domain": [0, 44.4167], "nice": false, "zero": false}, "axis": null},
"y": {"field": "v", "type": "quantitative", "scale": {"domain": [-161, 61], "nice": false, "zero": false}, "axis": {"orient": "left", "zindex": 1, "labelExpr": "'' + datum.value", "offset": -429, "values": [-150,-140,-130,-120,-110,-100,-90,-80,-70,-60,-50,-40,-30,-20,-10,0,10,20,30,40,50], "labelColor": "#3a3a3a", "title": "DTG", "titleColor": "#3a3a3a", "titleX": 2}}}}
]
},
{
"width": 395, "height": 219,
"title": {"text": "4", "offset": 11, "fontSize": 22},
"resolve": {"scale": {"y": "independent"}, "axis": {"x": "independent", "y": "independent"}},
"layer": [
{"resolve": {"axis": {"x": "independent", "y": "independent"}},
"layer": [
{"data": {"values": [{}]}, "mark": {"type": "rect", "fill": "#c9c9c9"}, "encoding": {"x": {"datum": -5.92, "type": "quantitative", "scale": {"domain": [0, 33.9], "nice": false, "zero": false}, "axis": null}, "x2": {"datum": 0}, "y": {"datum": -128.5, "type": "quantitative", "scale": {"domain": [-55, 1055], "nice": false, "zero": false}, "axis": {"orient": "left", "values": [0,50,100,150,200,250,300,350,400,450,500,550,600,650,700,750,800,850,900,950,1000], "grid": true, "gridColor": "#ebebeb", "labels": false, "ticks": false, "domain": false, "title": null, "zindex": 0}}, "y2": {"datum": 1131.8}}},
{"data": {"values": [{}]}, "mark": {"type": "rect", "fill": "#c9c9c9"}, "encoding": {"x": {"datum": 33.9, "type": "quantitative", "scale": {"domain": [0, 33.9], "nice": false, "zero": false}, "axis": null}, "x2": {"datum": 39.56}, "y": {"datum": -128.5, "type": "quantitative", "scale": {"domain": [-55, 1055], "nice": false, "zero": false}, "axis": null}, "y2": {"datum": 1131.8}}},
{"data": {"values": [{}]}, "mark": {"type": "rect", "fill": "#c9c9c9"}, "encoding": {"x": {"datum": -5.92, "type": "quantitative", "scale": {"domain": [0, 33.9], "nice": false, "zero": false}, "axis": {"orient": "bottom", "values": [0,5,10,15,20,25,30,33.9], "grid": true, "gridColor": "#c3c3c3", "labels": false, "ticks": false, "domain": false, "title": null, "zindex": 0}}, "x2": {"datum": 39.56}, "y": {"datum": 1055, "type": "quantitative", "scale": {"domain": [-55, 1055], "nice": false, "zero": false}, "axis": null}, "y2": {"datum": 1131.8}}},
{"data": {"values": [{}]}, "mark": {"type": "rect", "fill": "#c9c9c9"}, "encoding": {"x": {"datum": -5.92, "type": "quantitative", "scale": {"domain": [0, 33.9], "nice": false, "zero": false}, "axis": null}, "x2": {"datum": 39.56}, "y": {"datum": -128.5, "type": "quantitative", "scale": {"domain": [-55, 1055], "nice": false, "zero": false}, "axis": null}, "y2": {"datum": -55}}},
{"data": {"values": [{}]}, "mark": {"type": "rule", "color": "#c8742c", "strokeDash": [3, 2]}, "encoding": {"x": {"datum": 0, "type": "quantitative", "scale": {"domain": [0, 33.9], "nice": false, "zero": false}, "axis": null}}},
{"data": {"values": [{}]}, "mark": {"type": "rect", "fill": "#eeeeee", "stroke": "#8e8e8e", "strokeWidth": 0.8}, "encoding": {"x": {"datum": 1.86, "type": "quantitative", "scale": {"domain": [0, 33.9], "nice": false, "zero": false}, "axis": null}, "x2": {"datum": 6.53}, "y": {"datum": 1079.6, "type": "quantitative", "scale": {"domain": [-55, 1055], "nice": false, "zero": false}, "axis": null}, "y2": {"datum": 1118.1}}},
{"data": {"values": [{}]}, "mark": {"type": "rect", "fill": "#eeeeee", "stroke": "#8e8e8e", "strokeWidth": 0.8}, "encoding": {"x": {"datum": 10.22, "type": "quantitative", "scale": {"domain": [0, 33.9], "nice": false, "zero": false}, "axis": null}, "x2": {"datum": 14.6}, "y": {"datum": 1079.6, "type": "quantitative", "scale": {"domain": [-55, 1055], "nice": false, "zero": false}, "axis": null}, "y2": {"datum": 1118.1}}},
{"data": {"values": [{}]}, "mark": {"type": "rect", "fill": "#eeeeee", "stroke": "#8e8e8e", "strokeWidth": 0.8}, "encoding": {"x": {"datum": 19.5, "type": "quantitative", "scale": {"domain": [0, 33.9], "nice": false, "zero": false}, "axis": null}, "x2": {"datum": 23.96}, "y": {"datum": 1079.6, "type": "quantitative", "scale": {"domain": [-55, 1055], "nice": false, "zero": false}, "axis": null}, "y2": {"datum": 1118.1}}},
{"data": {"values": [{}]}, "mark": {"type": "rect", "fill": "#eeeeee", "stroke": "#8e8e8e", "strokeWidth": 0.8}, "encoding": {"x": {"datum": 30.23, "type": "quantitative", "scale": {"domain": [0, 33.9], "nice": false, "zero": false}, "axis": null}, "x2": {"datum": 34.44}, "y": {"datum": 1079.6, "type": "quantitative", "scale": {"domain": [-55, 1055], "nice": false, "zero": false}, "axis": null}, "y2": {"datum": 1118.1}}},
{"data": {"values": [{}]}, "mark": {"type": "text", "color": "#e3262b"}, "encoding": {"x": {"datum": 1.37, "type": "quantitative", "scale": {"domain": [0, 33.9], "nice": false, "zero": false}, "axis": null}, "y": {"datum": 1101.4, "type": "quantitative", "scale": {"domain": [-55, 1055], "nice": false, "zero": false}, "axis": null}, "text": {"value": "t, °C"}}},
{"data": {"values": [{}]}, "mark": {"type": "text", "color": "#3a6fe8"}, "encoding": {"x": {"datum": 9.53, "type": "quantitative", "scale": {"domain": [0, 33.9], "nice": false, "zero": false}, "axis": null}, "y": {"datum": 1101.4, "type": "quantitative", "scale": {"domain": [-55, 1055], "nice": false, "zero": false}, "axis": null}, "text": {"value": "TG, %"}}},
{"data": {"values": [{}]}, "mark": {"type": "text", "color": "#1e9e43"}, "encoding": {"x": {"datum": 18.38, "type": "quantitative", "scale": {"domain": [0, 33.9], "nice": false, "zero": false}, "axis": null}, "y": {"datum": 1101.4, "type": "quantitative", "scale": {"domain": [-55, 1055], "nice": false, "zero": false}, "axis": null}, "text": {"value": "DTA, °C"}}},
{"data": {"values": [{}]}, "mark": {"type": "text", "color": "#3a3a3a"}, "encoding": {"x": {"datum": 29.72, "type": "quantitative", "scale": {"domain": [0, 33.9], "nice": false, "zero": false}, "axis": null}, "y": {"datum": 1101.4, "type": "quantitative", "scale": {"domain": [-55, 1055], "nice": false, "zero": false}, "axis": null}, "text": {"value": "DTG, мг/мин"}}},
{"data": {"name": "readout"}, "transform": [{"filter": "datum.p == 4 && datum.k == 't'"}], "mark": {"type": "text", "color": "#e3262b"}, "encoding": {"x": {"datum": 6.33, "type": "quantitative", "scale": {"domain": [0, 33.9], "nice": false, "zero": false}, "axis": null}, "y": {"datum": 1101.4, "type": "quantitative", "scale": {"domain": [-55, 1055], "nice": false, "zero": false}, "axis": null}, "text": {"field": "v"}}},
{"data": {"name": "readout"}, "transform": [{"filter": "datum.p == 4 && datum.k == 'tg'"}], "mark": {"type": "text", "color": "#6240ee"}, "encoding": {"x": {"datum": 14.26, "type": "quantitative", "scale": {"domain": [0, 33.9], "nice": false, "zero": false}, "axis": null}, "y": {"datum": 1101.4, "type": "quantitative", "scale": {"domain": [-55, 1055], "nice": false, "zero": false}, "axis": null}, "text": {"field": "v"}}},
{"data": {"name": "readout"}, "transform": [{"filter": "datum.p == 4 && datum.k == 'dta'"}], "mark": {"type": "text", "color": "#1e9e43"}, "encoding": {"x": {"datum": 23.71, "type": "quantitative", "scale": {"domain": [0, 33.9], "nice": false, "zero": false}, "axis": null}, "y": {"datum": 1101.4, "type": "quantitative", "scale": {"domain": [-55, 1055], "nice": false, "zero": false}, "axis": null}, "text": {"field": "v"}}},
{"data": {"name": "readout"}, "transform": [{"filter": "datum.p == 4 && datum.k == 'dtg'"}], "mark": {"type": "text", "color": "#3a3a3a"}, "encoding": {"x": {"datum": 34.01, "type": "quantitative", "scale": {"domain": [0, 33.9], "nice": false, "zero": false}, "axis": null}, "y": {"datum": 1101.4, "type": "quantitative", "scale": {"domain": [-55, 1055], "nice": false, "zero": false}, "axis": null}, "text": {"field": "v"}}},
{"data": {"name": "p4"}, "transform": [{"filter": "datum.s == 't'"}], "mark": {"type": "line", "color": "#ff2a2a", "strokeWidth": 1.2, "clip": true}, "encoding": {
"x": {"field": "m", "type": "quantitative", "scale": {"domain": [0, 33.9], "nice": false, "zero": false}, "axis": {"orient": "bottom", "zindex": 1, "values": [0,5,10,15,20,25,30,33.9], "labelExpr": "datum.value == 30 ? '' : utcFormat(round(datum.value * 60000), '%H:%M:%S') + ',0'", "title": "Время, час:мин:сек", "domainDash": [1, 10.65]}},
"y": {"field": "v", "type": "quantitative", "scale": {"domain": [-55, 1055], "nice": false, "zero": false}, "axis": {"orient": "left", "zindex": 1, "labelExpr": "'' + datum.value", "offset": 37, "values": [0,50,100,150,200,250,300,350,400,450,500,550,600,650,700,750,800,850,900,950,1000], "labelColor": "#e3262b", "title": "t°C", "titleColor": "#e3262b", "titleX": -4}}}}
]},
{"data": {"name": "p4"}, "transform": [{"filter": "datum.s == 'tg'"}], "mark": {"type": "line", "color": "#7b22ff", "strokeWidth": 1.5, "clip": true}, "encoding": {
"x": {"field": "m", "type": "quantitative", "scale": {"domain": [0, 33.9], "nice": false, "zero": false}, "axis": null},
"y": {"field": "v", "type": "quantitative", "scale": {"domain": [-105.5, 5.5], "nice": false, "zero": false}, "axis": {"orient": "left", "zindex": 1, "labelExpr": "'' + datum.value", "offset": 5, "values": [-100,-95,-90,-85,-80,-75,-70,-65,-60,-55,-50,-45,-40,-35,-30,-25,-20,-15,-10,-5,0], "labelColor": "#3a6fe8", "title": "TG, %", "titleColor": "#3a6fe8", "titleX": -3.5}}}},
{"data": {"name": "p4"}, "transform": [{"filter": "datum.s == 'dta'"}], "mark": {"type": "line", "color": "#2dc653", "strokeWidth": 1.3, "clip": true}, "encoding": {
"x": {"field": "m", "type": "quantitative", "scale": {"domain": [0, 33.9], "nice": false, "zero": false}, "axis": null},
"y": {"field": "v", "type": "quantitative", "scale": {"domain": [-111, 111], "nice": false, "zero": false}, "axis": {"orient": "left", "zindex": 1, "labelExpr": "'' + datum.value", "offset": -423, "values": [-100,-90,-80,-70,-60,-50,-40,-30,-20,-10,0,10,20,30,40,50,60,70,80,90,100], "labelColor": "#1e9e43", "title": "DTA", "titleColor": "#1e9e43", "titleX": 2.5}}}},
{"data": {"name": "p4"}, "transform": [{"filter": "datum.s == 'dtg'"}], "mark": {"type": "line", "color": "#3d1c1f", "strokeWidth": 1.6, "clip": true}, "encoding": {
"x": {"field": "m", "type": "quantitative", "scale": {"domain": [0, 33.9], "nice": false, "zero": false}, "axis": null},
"y": {"field": "v", "type": "quantitative", "scale": {"domain": [-161, 61], "nice": false, "zero": false}, "axis": {"orient": "left", "zindex": 1, "labelExpr": "'' + datum.value", "offset": -450, "values": [-150,-140,-130,-120,-110,-100,-90,-80,-70,-60,-50,-40,-30,-20,-10,0,10,20,30,40,50], "labelColor": "#3a3a3a", "title": "DTG", "titleColor": "#3a3a3a", "titleX": 2}}}}
]
}
], "spacing": 20}
],
"spacing": 19,
"config": {
"view": {"stroke": null, "fill": "#dadada"},
"axis": {"labelFont": "DejaVu Sans", "titleFont": "DejaVu Sans", "labelFontWeight": "bold", "titleFontWeight": "bold", "labelFontSize": 6.5, "titleFontSize": 6.5, "grid": false, "labelOverlap": false, "tickColor": "#6e6e6e", "labelColor": "#333333", "titleColor": "#333333"},
"axisY": {"tickSize": 3, "labelPadding": 1, "domainWidth": 4, "domainDash": [1, 1], "domainColor": "#8c8c8c", "titleAngle": 0, "titleAlign": "right", "titleBaseline": "middle", "labelFontSize": 7, "titleFontSize": 7, "titleY": 3, "labelBound": false},
"axisX": {"tickSize": 3, "labelPadding": 0, "titlePadding": 0, "domain": true, "domainColor": "#222222", "domainWidth": 3, "labelFlush": false},
"text": {"font": "DejaVu Sans", "fontWeight": "bold", "fontSize": 7, "baseline": "middle", "align": "right"},
"title": {"font": "Liberation Sans", "fontSize": 23, "fontWeight": "normal", "color": "#1a1a1a", "orient": "bottom", "offset": 14}
}
}
